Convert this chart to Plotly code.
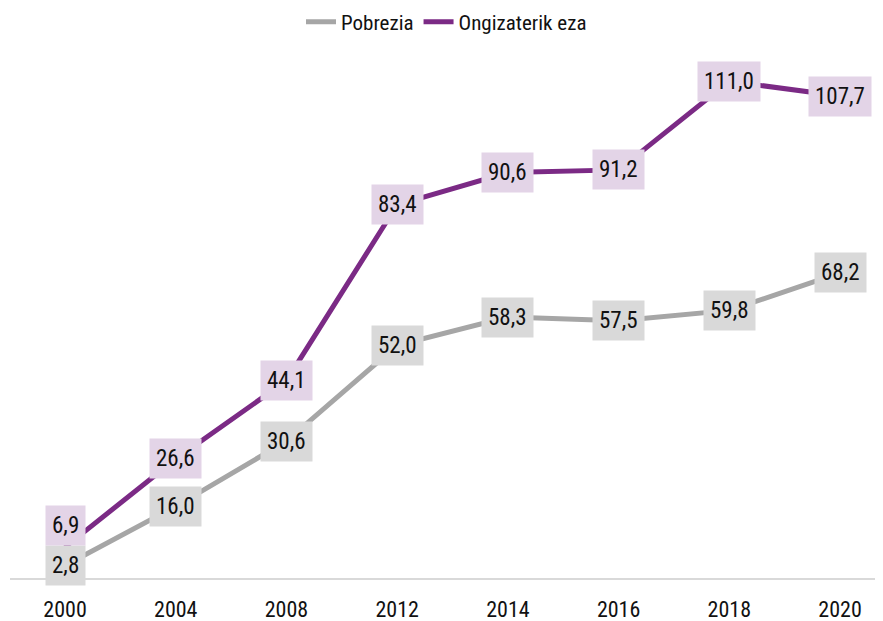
import plotly.graph_objects as go

years = ["2000", "2004", "2008", "2012", "2014", "2016", "2018", "2020"]
pobrezia = [2.8, 16.0, 30.6, 52.0, 58.3, 57.5, 59.8, 68.2]
ongizaterik = [6.9, 26.6, 44.1, 83.4, 90.6, 91.2, 111.0, 107.7]

FONT = "Roboto Condensed, DejaVu Sans Condensed, sans-serif"
GRAY = "#a6a6a6"
GRAY_BOX = "#d9d9d9"
PURPLE = "#7b2a85"
PURPLE_BOX = "#e3d4e7"

fig = go.Figure()
fig.add_trace(go.Scatter(x=years, y=pobrezia, mode="lines", name="Pobrezia",
                         line=dict(color=GRAY, width=5)))
fig.add_trace(go.Scatter(x=years, y=ongizaterik, mode="lines", name="Ongizaterik eza",
                         line=dict(color=PURPLE, width=5)))

def fmt(v):
    return f"{v:.1f}".replace(".", ",")

for i in range(len(years)):
    close = abs(ongizaterik[i] - pobrezia[i]) < 8
    fig.add_annotation(x=i, y=pobrezia[i], xref="x", yref="y", text=fmt(pobrezia[i]),
                       showarrow=False, bgcolor=GRAY_BOX, borderpad=6,
                       font=dict(family=FONT, size=23, color="#111111"))
    fig.add_annotation(x=i, y=ongizaterik[i], xref="x", yref="y", text=fmt(ongizaterik[i]),
                       showarrow=False, bgcolor=PURPLE_BOX, borderpad=6,
                       yshift=22 if close else 0,
                       font=dict(family=FONT, size=23, color="#111111"))

fig.update_layout(
    width=875, height=613,
    margin=dict(l=2, r=0, t=33, b=43, autoexpand=False),
    plot_bgcolor="white", paper_bgcolor="white",
    font=dict(family=FONT, size=23, color="#111111"),
    showlegend=True,
    legend=dict(orientation="h", x=0.5, xanchor="center", yref="container",
                y=0.977, yanchor="middle",
                font=dict(family=FONT, size=21, color="#111111"),
                bgcolor="rgba(0,0,0,0)"),
    xaxis=dict(type="category", range=[-0.497, 7.388], showgrid=False, zeroline=False,
               showline=True, linecolor="#d9d9d9", linewidth=2, automargin=False,
               ticks="outside", ticklen=11, tickcolor="rgba(0,0,0,0)",
               tickfont=dict(family=FONT, size=22, color="#111111")),
    yaxis=dict(range=[0, 120], visible=False, showgrid=False, zeroline=False,
               automargin=False),
)

fig.write_html("out.html")
